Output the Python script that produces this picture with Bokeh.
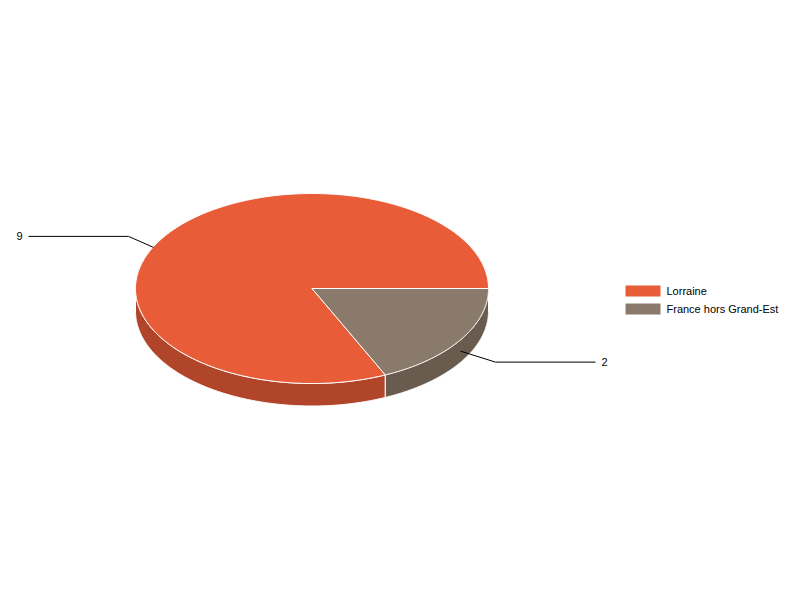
import numpy as np
from bokeh.plotting import figure
from bokeh.models import Range1d
from bokeh.embed import file_html
from bokeh.resources import INLINE
from bokeh.core.properties import value

# ---- data ----
categories = ["Lorraine", "France hors Grand-Est"]
values = [9, 2]
colors = ["#E85D38", "#8A7A6C"]
side_colors = ["#B0452A", "#6A5B4F"]

# ---- layout constants ----
W, H = 784, 584
CX, CY = 311.5, 288.0
RX, RY = 176.5, 95.0
DEPTH = 22.5
FONT = value("Liberation Sans")
ELBOW = {1: 35, -1: 25}
LABEL_COL = {1: 595, -1: 28}

p = figure(width=W, height=H, output_backend="svg", toolbar_location=None,
           x_range=Range1d(0, W), y_range=Range1d(H, 0),
           x_axis_type=None, y_axis_type=None, min_border=0)
p.grid.visible = False
p.outline_line_color = None

total = float(sum(values))
# angles (degrees, clockwise on screen from 3 o'clock); last slice starts at 0
spans = {}
start = 0.0
for i in reversed(range(len(values))):
    a = values[i] / total * 360.0
    spans[i] = (start, start + a)
    start += a


def ell(t_deg, dy=0.0):
    t = np.radians(t_deg)
    return CX + RX * np.cos(t), CY + RY * np.sin(t) + dy


# side walls (visible front half: 0..180 deg)
for i in range(len(values)):
    a0, a1 = spans[i]
    s0, s1 = max(a0, 0.0), min(a1, 180.0)
    if s1 <= s0:
        continue
    t = np.linspace(s0, s1, 200)
    xt, yt = ell(t)
    xb, yb = ell(t[::-1], DEPTH)
    p.patch(np.concatenate([xt, xb]), np.concatenate([yt, yb]),
            fill_color=side_colors[i], line_color="white", line_width=1)

# top faces
for i in range(len(values)):
    a0, a1 = spans[i]
    t = np.linspace(a0, a1, 400)
    xt, yt = ell(t)
    p.patch(np.concatenate([[CX], xt, [CX]]), np.concatenate([[CY], yt, [CY]]),
            fill_color=colors[i], line_color="white", line_width=1)

# leader lines + value labels
for i in range(len(values)):
    a0, a1 = spans[i]
    mid = (a0 + a1) / 2.0
    sx, sy = ell(mid, DEPTH / 2.0)
    side = 1 if np.cos(np.radians(mid)) >= 0 else -1
    vdir = 1 if np.sin(np.radians(mid)) >= 0 else -1
    if side < 0:
        sx -= 10
        sy -= 1
    ey = sy + vdir * 11
    ex = sx + side * ELBOW[side]
    lx = LABEL_COL[side]
    p.line([sx, ex, lx], [sy, ey, ey], line_color="black", line_width=1)
    p.text(x=[lx + side * 6], y=[ey], text=[str(values[i])],
           text_align="left" if side > 0 else "right", text_baseline="middle",
           text_font=FONT, text_font_size="11px", text_color="black")

# legend
leg_x, leg_y0, leg_dy = 625, 290.5, 18
for i, name in enumerate(categories):
    y = leg_y0 + i * leg_dy
    p.quad(left=[leg_x], right=[leg_x + 35], top=[y - 5.5], bottom=[y + 5.5],
           fill_color=colors[i], line_color=None)
    p.text(x=[leg_x + 41], y=[y], text=[name], text_align="left",
           text_baseline="middle", text_font=FONT, text_font_size="11px",
           text_color="black")

open("out.html", "w").write(file_html(p, INLINE))
